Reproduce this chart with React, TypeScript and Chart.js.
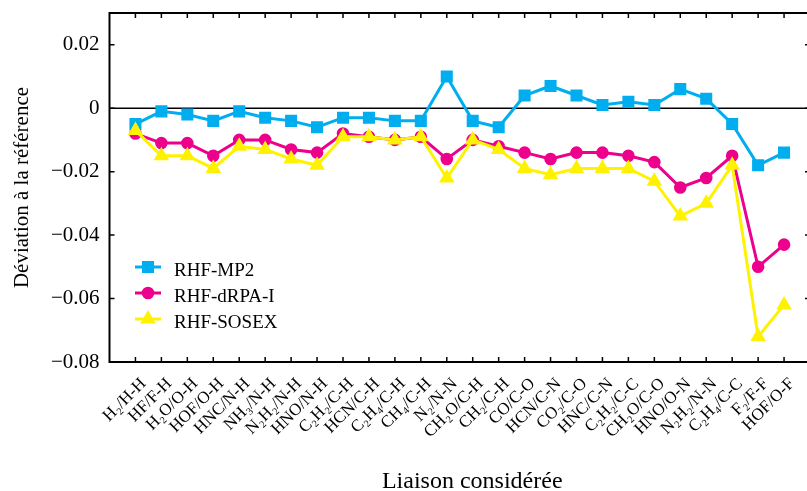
import React, { useEffect, useRef } from 'react';
import { Chart, registerables } from 'chart.js';
import { drawPoint } from 'chart.js/helpers';

Chart.register(...registerables);

const categories = [
  'H₂/H-H', 'HF/F-H', 'H₂O/O-H', 'HOF/O-H', 'HNC/N-H', 'NH₃/N-H', 'N₂H₂/N-H', 'HNO/N-H',
  'C₂H₂/C-H', 'HCN/C-H', 'C₂H₄/C-H', 'CH₄/C-H', 'N₂/N-N', 'CH₂O/C-H', 'CH₂/C-H', 'CO/C-O',
  'HCN/C-N', 'CO₂/C-O', 'HNC/C-N', 'C₂H₂/C-C', 'CH₂O/C-O', 'HNO/O-N', 'N₂H₂/N-N', 'C₂H₄/C-C',
  'F₂/F-F', 'HOF/O-F',
];

const mp2 = [
  -0.005, -0.001, -0.002, -0.004, -0.001, -0.003, -0.004, -0.006, -0.003, -0.003, -0.004, -0.004, 0.010,
  -0.004, -0.006, 0.004, 0.007, 0.004, 0.001, 0.002, 0.001, 0.006, 0.003, -0.005, -0.018, -0.014,
];
const drpa = [
  -0.008, -0.011, -0.011, -0.015, -0.010, -0.010, -0.013, -0.014, -0.008, -0.009, -0.010, -0.009, -0.016,
  -0.010, -0.012, -0.014, -0.016, -0.014, -0.014, -0.015, -0.017, -0.025, -0.022, -0.015, -0.050, -0.043,
];
const sosex = [
  -0.007, -0.015, -0.015, -0.019, -0.012, -0.013, -0.016, -0.018, -0.009, -0.009, -0.010, -0.009, -0.022,
  -0.010, -0.013, -0.019, -0.021, -0.019, -0.019, -0.019, -0.023, -0.034, -0.030, -0.018, -0.072, -0.062,
];

const seriesLabels = ['RHF-MP2', 'RHF-dRPA-I', 'RHF-SOSEX'];
const yTicks = [-0.08, -0.06, -0.04, -0.02, 0, 0.02];
const yMin = -0.08;
const yMax = 0.03;
const xTitle = 'Liaison considérée';
const yTitle = 'Déviation à la référence';

const FONT = "'Liberation Serif', 'Times New Roman', serif";
const BLUE = '#00AEEF';
const MAGENTA = '#EC008C';
const YELLOW = '#FFF200';

const CW = 812;
const CH = 494;

const fmtY = (v: number) => {
  if (Math.abs(v) < 1e-9) return '0';
  return (v < 0 ? '\u2212' : '') + Math.abs(v).toFixed(2);
};

const zeroPad = (s: any) => {
  s.paddingTop = 0;
  s.paddingBottom = 0;
  s.paddingLeft = 0;
  s.paddingRight = 0;
};

const framePlugin = {
  id: 'frame',
  beforeDatasetsDraw(chart: any) {
    const { ctx, chartArea: a, scales } = chart;
    const y0 = scales.y.getPixelForValue(0);
    ctx.save();
    ctx.strokeStyle = '#000';
    ctx.lineWidth = 1.5;
    ctx.beginPath();
    ctx.moveTo(a.left, y0);
    ctx.lineTo(a.right, y0);
    ctx.stroke();
    ctx.restore();
  },
  afterDraw(chart: any) {
    const { ctx, chartArea: a, scales } = chart;
    const x = scales.x;
    const y = scales.y;
    ctx.save();
    ctx.strokeStyle = '#000';
    ctx.lineWidth = 1.5;
    ctx.beginPath();
    x.ticks.forEach((t: any) => {
      const px = x.getPixelForValue(t.value);
      ctx.moveTo(px, a.top);
      ctx.lineTo(px, a.top + 5);
      ctx.moveTo(px, a.bottom);
      ctx.lineTo(px, a.bottom - 5);
    });
    y.ticks.forEach((t: any) => {
      const py = y.getPixelForValue(t.value);
      ctx.moveTo(a.left, py);
      ctx.lineTo(a.left + 5, py);
      ctx.moveTo(a.right, py);
      ctx.lineTo(a.right - 5, py);
    });
    ctx.stroke();
    ctx.lineWidth = 2;
    ctx.strokeRect(a.left, a.top, a.right - a.left, a.bottom - a.top);

    // x axis title (offset to the right as in the reference)
    ctx.fillStyle = '#000';
    ctx.font = `24px ${FONT}`;
    ctx.textAlign = 'center';
    ctx.textBaseline = 'alphabetic';
    ctx.fillText(xTitle, (a.left + a.right) / 2 + 12.5, 488);

    // legend
    const lx0 = 135;
    const lx1 = 161;
    const ly0 = 267;
    const step = 26;
    chart.data.datasets.forEach((ds: any, i: number) => {
      const yy = ly0 + i * step;
      ctx.strokeStyle = ds.borderColor;
      ctx.lineWidth = ds.borderWidth;
      ctx.beginPath();
      ctx.moveTo(lx0, yy);
      ctx.lineTo(lx1, yy);
      ctx.stroke();
      ctx.fillStyle = ds.pointBackgroundColor;
      ctx.strokeStyle = ds.pointBorderColor;
      drawPoint(ctx, { pointStyle: ds.pointStyle, radius: ds.pointRadius, rotation: 0, borderWidth: 1 }, (lx0 + lx1) / 2, yy);
      ctx.fillStyle = '#000';
      ctx.font = `19px ${FONT}`;
      ctx.textBaseline = 'alphabetic';
      ctx.textAlign = 'left';
      ctx.fillText(ds.label, 174, yy + 8.5);
    });
    ctx.restore();
  },
};

export default function App() {
  const ref = useRef<HTMLCanvasElement>(null);
  useEffect(() => {
    if (!ref.current) return;
    const mk = (vals: number[]) => vals.map((v, i) => ({ x: i + 1, y: v }));
    const chart = new Chart(ref.current, {
      type: 'line',
      data: {
        datasets: [
          {
            label: seriesLabels[0], data: mk(mp2), borderColor: BLUE, backgroundColor: BLUE,
            pointBackgroundColor: BLUE, pointBorderColor: BLUE, pointStyle: 'rect', pointRadius: 6.4,
            borderWidth: 3, order: 2, tension: 0,
          },
          {
            label: seriesLabels[1], data: mk(drpa), borderColor: MAGENTA, backgroundColor: MAGENTA,
            pointBackgroundColor: MAGENTA, pointBorderColor: MAGENTA, pointStyle: 'circle', pointRadius: 4.8,
            borderWidth: 3, order: 1, tension: 0,
          },
          {
            label: seriesLabels[2], data: mk(sosex), borderColor: YELLOW, backgroundColor: YELLOW,
            pointBackgroundColor: YELLOW, pointBorderColor: YELLOW, pointStyle: 'triangle', pointRadius: 6,
            borderWidth: 3, order: 0, tension: 0,
          },
        ] as any,
      },
      options: {
        responsive: false,
        maintainAspectRatio: false,
        animation: false,
        devicePixelRatio: 1,
        layout: { autoPadding: false, padding: { top: 13, right: 2, left: 0, bottom: 0 } },
        plugins: { legend: { display: false }, tooltip: { enabled: false } },
        scales: {
          x: {
            type: 'linear',
            min: 0,
            max: categories.length + 1,
            grid: { display: false, drawTicks: false },
            border: { display: false },
            afterBuildTicks: (s: any) => {
              s.ticks = categories.map((_, i) => ({ value: i + 1 }));
            },
            afterFit: (s: any) => {
              s.height = 132;
              zeroPad(s);
            },
            ticks: {
              autoSkip: false,
              minRotation: 45,
              maxRotation: 45,
              color: '#000',
              padding: 12,
              labelOffset: 8,
              font: { family: FONT, size: 17 },
              callback: (v: any) => categories[Math.round(Number(v)) - 1] ?? '',
            },
            title: { display: false },
          },
          y: {
            type: 'linear',
            min: yMin,
            max: yMax,
            grid: { display: false, drawTicks: false },
            border: { display: false },
            afterBuildTicks: (s: any) => {
              s.ticks = yTicks.map((v) => ({ value: v }));
            },
            afterFit: (s: any) => {
              s.width = 109.5;
              zeroPad(s);
            },
            ticks: {
              color: '#000',
              padding: 10,
              font: { family: FONT, size: 21 },
              callback: (v: any) => fmtY(Number(v)),
            },
            title: {
              display: true,
              text: yTitle,
              color: '#000',
              font: { family: FONT, size: 21 },
              padding: { top: 9.5, bottom: 0 },
            },
          },
        },
      } as any,
      plugins: [framePlugin],
    });
    return () => chart.destroy();
  }, []);

  return (
    <div style={{ position: 'fixed', left: 0, top: 0, width: CW, height: CH, overflow: 'hidden', background: '#fff' }}>
      <canvas ref={ref} width={CW} height={CH} style={{ display: 'block', width: CW, height: CH }} />
    </div>
  );
}
